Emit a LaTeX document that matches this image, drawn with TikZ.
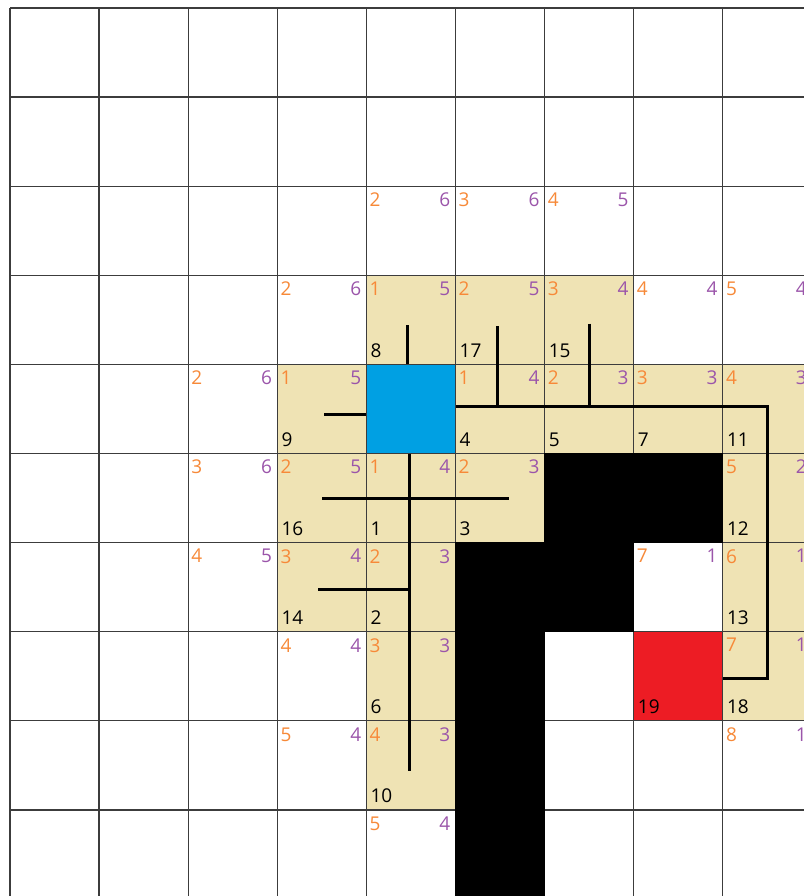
\documentclass[tikz,border=0pt]{standalone}
\usepackage{fontspec}
\setmainfont{Open Sans}
\definecolor{tanc}{RGB}{239,227,180}
\definecolor{cblue}{RGB}{0,160,227}
\definecolor{cred}{RGB}{237,28,36}
\definecolor{corange}{RGB}{247,137,56}
\definecolor{cpurple}{RGB}{155,85,170}
\definecolor{gridc}{RGB}{60,60,60}
\begin{document}
\begin{tikzpicture}[x=1pt,y=-1pt,
  gridline/.style={draw=gridc,line width=1.3pt},
  pathline/.style={draw=black,line width=3pt,line join=miter},
  gval/.style={text=corange,inner sep=0pt,anchor=north west,font=\fontsize{19}{19}\selectfont},
  hval/.style={text=cpurple,inner sep=0pt,anchor=north east,font=\fontsize{19}{19}\selectfont},
  idval/.style={text=black,inner sep=0pt,anchor=base west,font=\fontsize{19}{19}\selectfont}]
\def\cs{89.1}
\useasboundingbox (0,0) rectangle (803,896);
\fill[white] (0,0) rectangle (803,896);
% tan cells
\foreach \r/\c in {3/4,3/5,3/6,4/3,4/5,4/6,4/7,4/8,5/3,5/4,5/5,5/8,6/3,6/4,6/8,7/4,7/8,8/4}
  \fill[tanc] ({10+\c*\cs},{8+\r*\cs}) rectangle +(\cs,\cs);
\fill[cblue] ({10+4*\cs},{8+4*\cs}) rectangle +(\cs,\cs);
\fill[cred] ({10+7*\cs},{8+7*\cs}) rectangle +(\cs,\cs);
% grid
\foreach \k in {0,...,9} {
  \draw[gridline] ({10+\k*\cs},8) -- ({10+\k*\cs},900);
  \draw[gridline] (10,{8+\k*\cs}) -- (810,{8+\k*\cs});
}
% walls
\foreach \r/\c in {5/6,5/7,6/5,6/6,7/5,8/5,9/5}
  \fill[black] ({10+\c*\cs-0.3},{8+\r*\cs-0.3}) rectangle +(\cs+0.6,\cs+0.6);
% g and h values
\foreach \r/\c/\g/\h in {2/4/2/6,2/5/3/6,2/6/4/5,
  3/3/2/6,3/4/1/5,3/5/2/5,3/6/3/4,3/7/4/4,3/8/5/4,
  4/2/2/6,4/3/1/5,4/5/1/4,4/6/2/3,4/7/3/3,4/8/4/3,
  5/2/3/6,5/3/2/5,5/4/1/4,5/5/2/3,5/8/5/2,
  6/2/4/5,6/3/3/4,6/4/2/3,6/7/7/1,6/8/6/1,
  7/3/4/4,7/4/3/3,7/8/7/1,
  8/3/5/4,8/4/4/3,8/8/8/1,
  9/4/5/4} {
  \node[gval] (g-\r-\c) at ({10+\c*\cs+3},{8+\r*\cs+6.5}) {\g};
  \node[hval] (h-\r-\c) at ({10+(\c+1)*\cs-5},{8+\r*\cs+6.5}) {\h};
}
% cell ids
\foreach \r/\c/\n in {3/4/8,3/5/17,3/6/15,
  4/3/9,4/5/4,4/6/5,4/7/7,4/8/11,
  5/3/16,5/4/1,5/5/3,5/8/12,
  6/3/14,6/4/2,6/8/13,
  7/4/6,7/7/19,7/8/18,
  8/4/10} {
  \node[idval] (id-\n) at ({10+\c*\cs+4},{8+(\r+1)*\cs-7}) {\n};
}
% tree lines
\draw[pathline] (407.3,325) -- (407.3,364.4);
\draw[pathline] (497.3,326) -- (497.3,406.5);
\draw[pathline] (589.3,323.5) -- (589.3,406.5);
\draw[pathline] (455.5,406.5) -- (767.3,406.5) -- (767.3,678) -- (722.8,678);
\draw[pathline] (324,414) -- (366.4,414);
\draw[pathline] (409.3,453.5) -- (409.3,771);
\draw[pathline] (322,498) -- (509.3,498);
\draw[pathline] (318,589) -- (409.3,589);
\end{tikzpicture}
\end{document}
